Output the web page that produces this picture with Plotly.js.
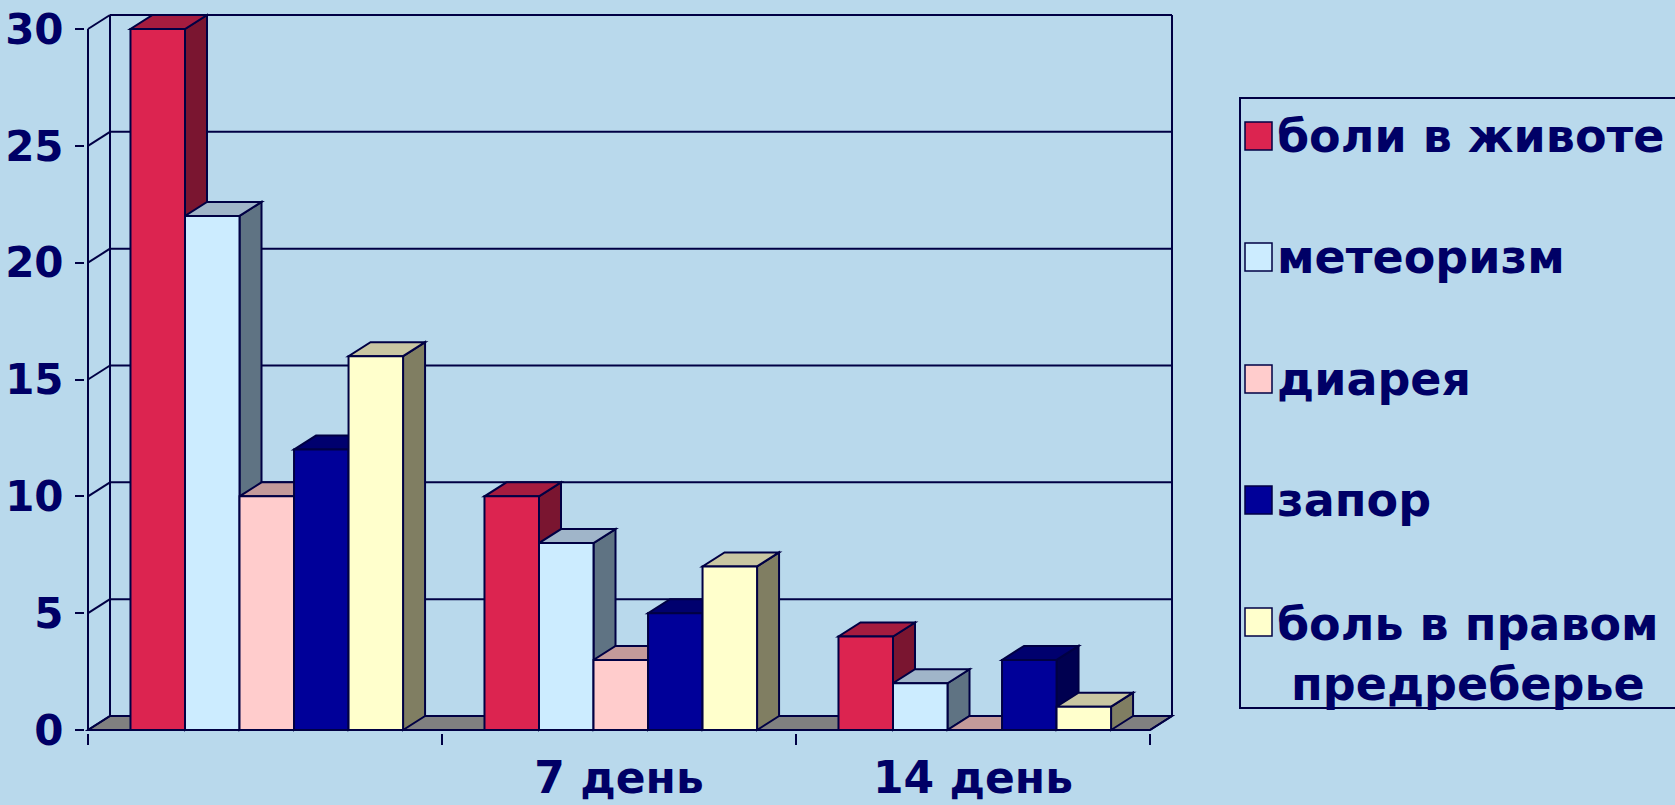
<!DOCTYPE html>
<html>
<head>
<meta charset="utf-8">
<script src="https://cdn.plot.ly/plotly-3.0.1.min.js"></script>
<style>html,body{margin:0;padding:0;background:#B9D9EC;}#chart{width:1675px;height:805px;}</style>
</head>
<body>
<div id="chart"></div>
<script>
// ---- data ----
const categories = ['', '7 день', '14 день'];
const seriesNames = ['боли в животе', 'метеоризм', 'диарея', 'запор', 'боль в правом<br>предреберье'];
const painAbdomen = [30, 10, 4];
const meteorism = [22, 8, 2];
const diarrhea = [10, 3, 0];
const constipation = [12, 5, 3];
const painRightSide = [16, 7, 1];
const yTicks = [0, 5, 10, 15, 20, 25, 30];

// ---- styling ----
const seriesValues = [painAbdomen, meteorism, diarrhea, constipation, painRightSide];
const frontColors = ['#DC2450', '#CCECFF', '#FFCCCC', '#000099', '#FFFFCC'];
const topColors   = ['#A51C3F', '#A0B5C9', '#C49A9A', '#00006E', '#C9C6A2'];
const sideColors  = ['#7A1530', '#5F7383', '#A07878', '#000050', '#807E62'];
const ink = '#000044';
const textColor = '#000066';
const bg = '#B9D9EC';
const FONT = '"DejaVu Sans", Verdana, sans-serif';

const W = 1675, H = 805;
const mL = 85, mR = 500, mT = 12, mB = 72;
const ux = 354;          // px per category
const yMax = 30;
const uy = 701 / yMax;   // px per unit
const depthX = 22, depthY = 14, pad = 3;
const dxD = depthX / ux, dyD = depthY / uy;
const bw = 0.154, off0 = -0.38;
const nCat = categories.length;
const xr = [-0.5 - pad / ux, nCat - 0.5 + dxD + pad / ux];
const yr = [-pad / uy, yMax + dyD + pad / uy];

const plotW = W - mL - mR, plotH = H - mT - mB;
const px2x = p => (p - mL) / plotW;
const px2y = p => (H - mB - p) / plotH;

const xIdx = categories.map((c, i) => i);

const traces = seriesValues.map((vals, j) => ({
  type: 'bar',
  x: xIdx,
  y: vals,
  name: seriesNames[j],
  width: bw,
  offset: off0 + j * bw,
  marker: {color: frontColors[j], line: {color: ink, width: 2}},
  showlegend: false,
  hoverinfo: 'skip'
}));

const shapes = [];
const line = (x0, y0, x1, y1) => shapes.push({type: 'line', xref: 'x', yref: 'y', x0, y0, x1, y1, layer: 'below', line: {color: ink, width: 2}});
const poly = (pts, fill) => shapes.push({
  type: 'path', xref: 'x', yref: 'y', layer: 'below',
  path: 'M' + pts.map(p => p[0] + ',' + p[1]).join(' L') + ' Z',
  fillcolor: fill, line: {color: ink, width: 2}
});

const xa = -0.5, xb = nCat - 0.5;
// floor
poly([[xa, 0], [xb, 0], [xb + dxD, dyD], [xa + dxD, dyD]], '#808080');
// back wall gridlines and left wall diagonals
yTicks.forEach(v => {
  line(xa + dxD, v + dyD, xb + dxD, v + dyD);
  line(xa, v, xa + dxD, v + dyD);
});
// wall edges
line(xa + dxD, dyD, xa + dxD, yMax + dyD);
line(xb + dxD, dyD, xb + dxD, yMax + dyD);
line(xa, 0, xa, yMax);
line(xa, 0, xb, 0);
line(xb, 0, xb + dxD, dyD);

// 3D faces of bars (side and top), in drawing order left to right
for (let i = 0; i < nCat; i++) {
  for (let j = 0; j < seriesValues.length; j++) {
    const v = seriesValues[j][i];
    const l = i + off0 + j * bw, r = l + bw;
    if (v > 0) poly([[r, 0], [r, v], [r + dxD, v + dyD], [r + dxD, dyD]], sideColors[j]);
    poly([[l, v], [r, v], [r + dxD, v + dyD], [l + dxD, v + dyD]], topColors[j]);
  }
}

// legend (drawn manually to get large swatches)
const legLeft = 1240, legTop = 98, legBottom = 708;
shapes.push({type: 'rect', xref: 'paper', yref: 'paper', x0: px2x(legLeft), x1: px2x(1700), y0: px2y(legBottom), y1: px2y(legTop), line: {color: ink, width: 2}, fillcolor: 'rgba(0,0,0,0)'});
const rowY = [136, 257, 379, 500, 622];
const legFont = 46;
const annotations = [];
seriesNames.forEach((nm, j) => {
  shapes.push({type: 'rect', xref: 'paper', yref: 'paper', x0: px2x(1245), x1: px2x(1272), y0: px2y(rowY[j] + 14), y1: px2y(rowY[j] - 14), fillcolor: frontColors[j], line: {color: ink, width: 1.5}});
  const multi = nm.indexOf('<br>') >= 0;
  annotations.push({
    xref: 'paper', yref: 'paper', x: px2x(1275), y: px2y(multi ? rowY[j] - 27 : rowY[j]),
    xanchor: 'left', yanchor: multi ? 'top' : 'middle', align: 'center',
    text: nm, showarrow: false,
    font: {family: FONT, size: legFont, color: textColor, weight: 'bold'}
  });
});

const layout = {
  width: W, height: H,
  margin: {l: mL, r: mR, t: mT, b: mB, autoexpand: false},
  paper_bgcolor: bg, plot_bgcolor: bg,
  barmode: 'overlay',
  showlegend: false,
  font: {family: FONT, color: textColor},
  xaxis: {
    range: xr, showgrid: false, zeroline: false, showline: false,
    tickmode: 'array', tickvals: xIdx, ticktext: categories, ticks: '',
    ticklabelstandoff: 15,
    tickfont: {family: FONT, size: 44, color: textColor, weight: 'bold'},
    minor: {tickmode: 'array', tickvals: [-0.5, 0.5, 1.5, 2.5], ticks: 'outside', ticklen: 11, tickwidth: 2, tickcolor: ink, showgrid: false}
  },
  yaxis: {
    range: yr, showgrid: false, zeroline: false, showline: false,
    tickmode: 'array', tickvals: yTicks, ticks: 'outside', ticklen: 9, tickwidth: 2, tickcolor: ink,
    ticklabelstandoff: 3,
    tickfont: {family: FONT, size: 42, color: textColor, weight: 'bold'}
  },
  shapes: shapes,
  annotations: annotations
};

Plotly.newPlot('chart', traces, layout, {displayModeBar: false, staticPlot: true});
</script>
</body>
</html>
